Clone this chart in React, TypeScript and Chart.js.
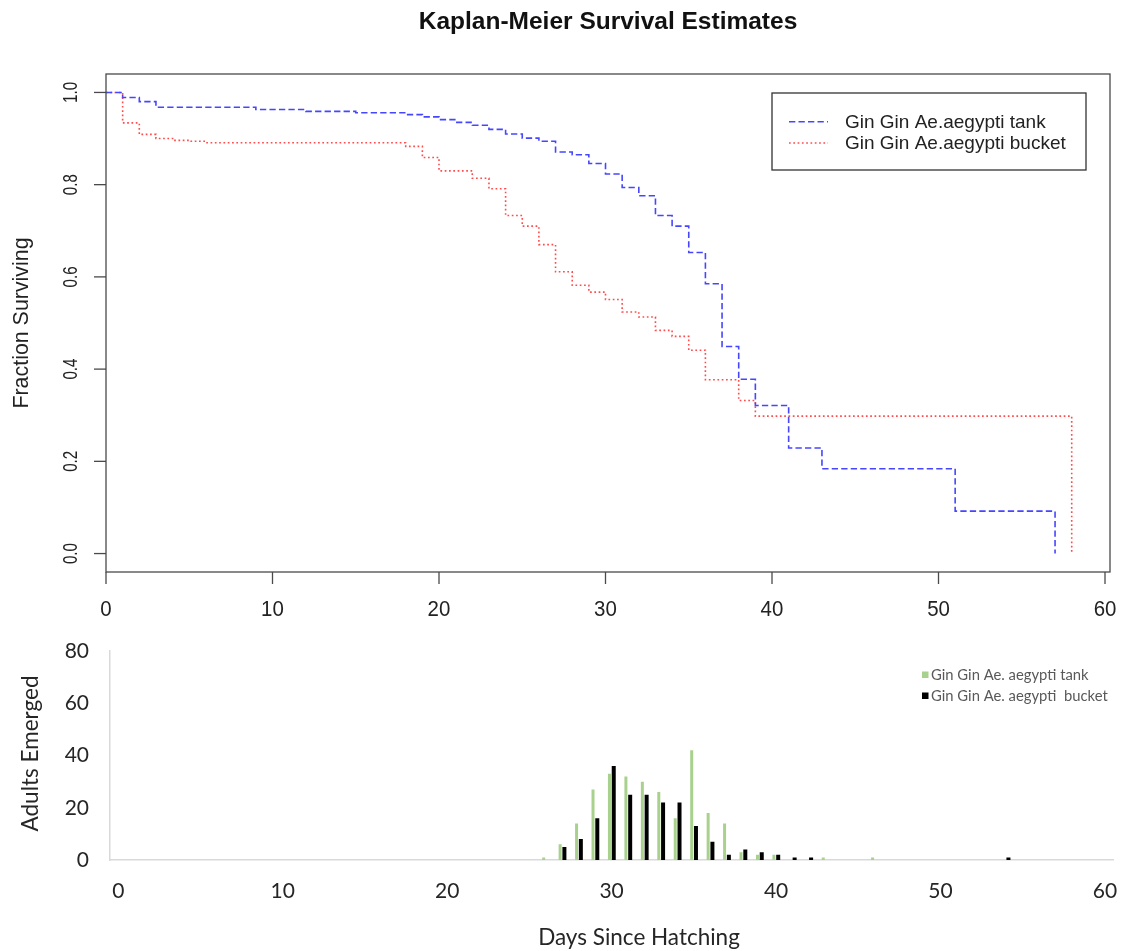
import React, { useEffect, useRef } from "react";
import { Chart, registerables } from "chart.js";

Chart.register(...registerables);

// ---------------- Kaplan-Meier data ----------------
const tankDays = [0, 1, 2, 3, 9, 12, 15, 18, 19, 20, 21, 22, 23, 24, 25, 26, 27, 28, 29, 30, 31, 32, 33, 34, 35, 36, 37, 38, 39, 41, 43, 51, 57];
const tankSurv = [1.0, 0.989, 0.98, 0.968, 0.963, 0.959, 0.956, 0.952, 0.947, 0.941, 0.935, 0.929, 0.92, 0.91, 0.901, 0.894, 0.871, 0.865, 0.846, 0.823, 0.794, 0.776, 0.733, 0.71, 0.653, 0.585, 0.449, 0.378, 0.321, 0.229, 0.184, 0.092, 0.0];

const bucketDays = [0, 1, 2, 3, 4, 5, 6, 18, 19, 20, 22, 23, 24, 25, 26, 27, 28, 29, 30, 31, 32, 33, 34, 35, 36, 38, 39, 58];
const bucketSurv = [1.0, 0.934, 0.909, 0.9, 0.896, 0.894, 0.891, 0.883, 0.859, 0.83, 0.814, 0.791, 0.733, 0.71, 0.67, 0.611, 0.582, 0.567, 0.551, 0.524, 0.513, 0.484, 0.471, 0.441, 0.377, 0.332, 0.298, 0.0];

const kmXTicks = [0, 10, 20, 30, 40, 50, 60];
const kmYTicks = [0, 0.2, 0.4, 0.6, 0.8, 1.0];
const kmYTickLabels = ["0.0", "0.2", "0.4", "0.6", "0.8", "1.0"];
const kmTitle = "Kaplan-Meier Survival Estimates";
const kmYTitle = "Fraction Surviving";
const kmLegend = ["Gin Gin Ae.aegypti tank", "Gin Gin Ae.aegypti bucket"];

// ---------------- Emergence data ----------------
const emergDays = Array.from({ length: 61 }, (_, i) => i);
const tankEmergDays = [26, 27, 28, 29, 30, 31, 32, 33, 34, 35, 36, 37, 38, 39, 40, 43, 46];
const tankEmergCounts = [1, 6, 14, 27, 33, 32, 30, 26, 16, 42, 18, 14, 3, 2, 2, 1, 1];
const bucketEmergDays = [27, 28, 29, 30, 31, 32, 33, 34, 35, 36, 37, 38, 39, 40, 41, 42, 54];
const bucketEmergCounts = [5, 8, 16, 36, 25, 25, 22, 22, 13, 7, 2, 4, 3, 2, 1, 1, 1];
const emergYTicks = [0, 20, 40, 60, 80];
const emergXTitle = "Days Since Hatching";
const emergYTitle = "Adults Emerged";
const emergLegend = ["Gin Gin Ae. aegypti tank", "Gin Gin Ae. aegypti  bucket"];

const BLUE = "rgb(70,70,255)";
const RED = "rgb(255,75,75)";
const BLUE_DASH = [6.3, 3.2];
const RED_DASH = [1.7, 2.6];
const GREEN = "#a9d18e";
const ARIAL = "'Liberation Sans', Arial, sans-serif";
const CAL = "Lato, 'Open Sans', sans-serif";

function toSeries(days: number[], vals: number[]) {
  const out: (number | null)[] = emergDays.map(() => null);
  days.forEach((d, i) => {
    out[d] = vals[i];
  });
  return out;
}

const kmDecor = {
  id: "kmDecor",
  afterDraw(chart: any) {
    const { ctx, chartArea: ca } = chart;
    const xs = chart.scales.x;
    const ys = chart.scales.y;
    ctx.save();
    ctx.strokeStyle = "#4a4a4a";
    ctx.lineWidth = 1.3;
    ctx.setLineDash([]);
    ctx.strokeRect(ca.left, ca.top, ca.right - ca.left, ca.bottom - ca.top);
    // x axis ticks
    ctx.fillStyle = "#222";
    ctx.font = `22px ${ARIAL}`;
    ctx.textAlign = "center";
    ctx.textBaseline = "middle";
    kmXTicks.forEach((v) => {
      const px = xs.getPixelForValue(v);
      ctx.beginPath();
      ctx.moveTo(px, ca.bottom);
      ctx.lineTo(px, ca.bottom + 12);
      ctx.stroke();
      ctx.save();
      ctx.translate(px, 610);
      ctx.scale(0.93, 1);
      ctx.fillText(String(v), 0, 0);
      ctx.restore();
    });
    // y axis ticks
    ctx.font = `21px ${ARIAL}`;
    kmYTicks.forEach((v, i) => {
      const py = ys.getPixelForValue(v);
      ctx.beginPath();
      ctx.moveTo(ca.left - 12, py);
      ctx.lineTo(ca.left, py);
      ctx.stroke();
      ctx.save();
      ctx.translate(71, py);
      ctx.rotate(-Math.PI / 2);
      ctx.scale(0.72, 1);
      ctx.fillText(kmYTickLabels[i], 0, 0);
      ctx.restore();
    });
    // y title
    ctx.save();
    ctx.font = `21.4px ${ARIAL}`;
    ctx.translate(22, (ca.top + ca.bottom) / 2);
    ctx.rotate(-Math.PI / 2);
    ctx.fillText(kmYTitle, 0, 0);
    ctx.restore();
    // title
    ctx.font = `bold 24.5px ${ARIAL}`;
    ctx.fillStyle = "#111";
    ctx.fillText(kmTitle, (ca.left + ca.right) / 2, 22);
    // legend
    ctx.strokeStyle = "#333";
    ctx.lineWidth = 1.3;
    ctx.strokeRect(772, 93, 314, 77);
    const ly = [121.7, 143];
    const cols = [BLUE, RED];
    const dashes = [BLUE_DASH, RED_DASH];
    ctx.font = `19px ${ARIAL}`;
    ctx.textAlign = "left";
    kmLegend.forEach((t, i) => {
      ctx.strokeStyle = cols[i];
      ctx.lineWidth = 1.6;
      ctx.setLineDash(dashes[i]);
      ctx.beginPath();
      ctx.moveTo(789, ly[i]);
      ctx.lineTo(828, ly[i]);
      ctx.stroke();
      ctx.setLineDash([]);
      ctx.fillStyle = "#222";
      ctx.fillText(t, 845, ly[i] + 1);
    });
    ctx.restore();
  },
};

const emergDecor = {
  id: "emergDecor",
  afterDraw(chart: any) {
    const { ctx } = chart;
    ctx.save();
    ctx.fillStyle = "#262626";
    ctx.font = `22.5px ${CAL}`;
    ctx.textAlign = "center";
    ctx.textBaseline = "middle";
    ctx.fillText(emergXTitle, 639, 308);
    ctx.save();
    ctx.translate(31, 123.5);
    ctx.rotate(-Math.PI / 2);
    ctx.fillText(emergYTitle, 0, 0);
    ctx.restore();
    // legend
    const ly = [45, 66];
    const cols = [GREEN, "#000"];
    ctx.font = `14.8px ${CAL}`;
    ctx.textAlign = "left";
    emergLegend.forEach((t, i) => {
      ctx.fillStyle = cols[i];
      ctx.fillRect(922, ly[i] - 3.5, 6.5, 6.5);
      ctx.fillStyle = "#595959";
      ctx.fillText(t, 931, ly[i]);
    });
    ctx.restore();
  },
};

function KMChart() {
  const ref = useRef<HTMLCanvasElement>(null);
  useEffect(() => {
    const chart = new Chart(ref.current as HTMLCanvasElement, {
      type: "line",
      data: {
        datasets: [
          {
            label: kmLegend[0],
            data: tankDays.map((d, i) => ({ x: d, y: tankSurv[i] })),
            borderColor: BLUE,
            borderWidth: 1.6,
            borderDash: BLUE_DASH,
            stepped: true,
            pointRadius: 0,
            fill: false,
          },
          {
            label: kmLegend[1],
            data: bucketDays.map((d, i) => ({ x: d, y: bucketSurv[i] })),
            borderColor: RED,
            borderWidth: 1.6,
            borderDash: RED_DASH,
            stepped: true,
            pointRadius: 0,
            fill: false,
          },
        ],
      },
      options: {
        responsive: false,
        animation: false,
        events: [],
        layout: { padding: { left: 106, top: 74, right: 18, bottom: 58 } },
        scales: {
          x: { type: "linear", min: 0, max: 60.3, display: false },
          y: { type: "linear", min: -0.04, max: 1.04, display: false },
        },
        plugins: { legend: { display: false }, tooltip: { enabled: false } },
      },
      plugins: [kmDecor],
    } as any);
    return () => chart.destroy();
  }, []);
  return (
    <canvas
      ref={ref}
      width={1128}
      height={630}
      style={{ position: "absolute", left: 0, top: 0, width: 1128, height: 630 }}
    />
  );
}

function EmergChart() {
  const ref = useRef<HTMLCanvasElement>(null);
  useEffect(() => {
    const chart = new Chart(ref.current as HTMLCanvasElement, {
      type: "bar",
      data: {
        labels: emergDays.map(String),
        datasets: [
          {
            label: emergLegend[0],
            data: toSeries(tankEmergDays, tankEmergCounts),
            backgroundColor: GREEN,
            maxBarThickness: 3,
            categoryPercentage: 0.52,
            barPercentage: 1,
          },
          {
            label: emergLegend[1],
            data: toSeries(bucketEmergDays, bucketEmergCounts),
            backgroundColor: "#000",
            maxBarThickness: 4,
            categoryPercentage: 0.52,
            barPercentage: 1,
          },
        ],
      },
      options: {
        responsive: false,
        animation: false,
        events: [],
        layout: { padding: { left: 0, top: 21, right: 14.8, bottom: 0 } },
        scales: {
          x: {
            type: "category",
            offset: true,
            grid: { display: false, drawTicks: false },
            border: { display: true, color: "#d9d9d9", width: 1.5 },
            ticks: {
              autoSkip: false,
              maxRotation: 0,
              minRotation: 0,
              padding: 19,
              color: "#262626",
              font: { family: CAL, size: 21 },
              callback: (_v: any, i: number) => (i % 10 === 0 ? String(emergDays[i]) : ""),
            },
            afterFit: (s: any) => {
              s.height = 91;
              s.paddingLeft = 0;
              s.paddingRight = 0;
            },
          },
          y: {
            min: 0,
            max: 80,
            grid: { display: false, drawTicks: false },
            border: { display: true, color: "#d9d9d9", width: 1.5 },
            ticks: {
              stepSize: 20,
              padding: 21,
              color: "#262626",
              font: { family: CAL, size: 21 },
              callback: (v: any) => (emergYTicks.includes(Number(v)) ? String(v) : ""),
            },
            afterFit: (s: any) => {
              s.width = 110;
              s.paddingTop = 0;
              s.paddingBottom = 0;
            },
          },
        },
        plugins: { legend: { display: false }, tooltip: { enabled: false } },
      },
      plugins: [emergDecor],
    } as any);
    return () => chart.destroy();
  }, []);
  return (
    <canvas
      ref={ref}
      width={1128}
      height={321}
      style={{ position: "absolute", left: 0, top: 630, width: 1128, height: 321 }}
    />
  );
}

export default function App() {
  return (
    <div style={{ position: "absolute", left: 0, top: 0, width: 1128, height: 951, background: "#fff" }}>
      <KMChart />
      <EmergChart />
    </div>
  );
}
